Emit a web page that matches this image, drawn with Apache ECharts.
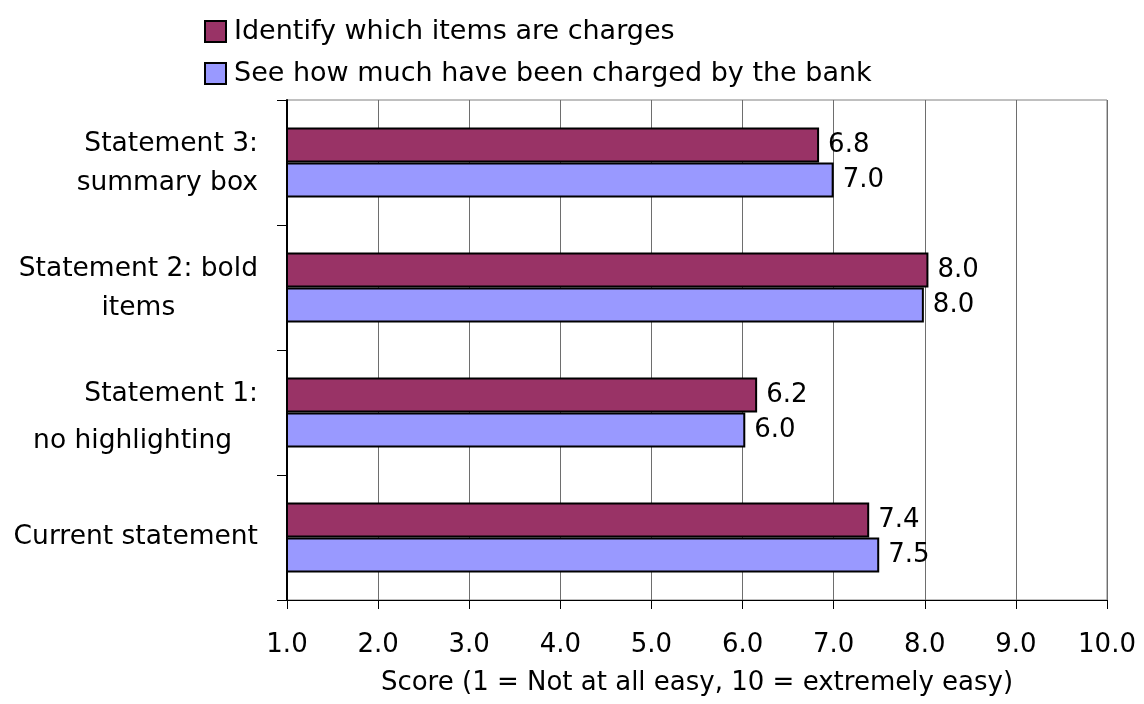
<!DOCTYPE html>
<html>
<head>
<meta charset="utf-8">
<script src="https://cdn.jsdelivr.net/npm/echarts@6/dist/echarts.min.js"></script>
<style>
  html, body { margin: 0; padding: 0; background: #ffffff; }
  #chart { width: 1144px; height: 704px; }
</style>
</head>
<body>
<div id="chart"></div>
<script>
// ---- data ----
var categories = [
  'Statement 3:\nsummary box',
  'Statement 2: bold\nitems',
  'Statement 1:\nno highlighting',
  'Current statement'
];
var seriesNames = [
  'Identify which items are charges',
  'See how much have been charged by the bank'
];
var identifyValues = [6.84, 8.04, 6.16, 7.39];
var seeHowMuchValues = [7.00, 7.99, 6.03, 7.50];
var xTickMin = 1;
var xTickMax = 10;
var xTickStep = 1;
var axisTitle = 'Score (1 = Not at all easy, 10 = extremely easy)';

// ---- styles (not data) ----
var FONT = '"DejaVu Sans", Verdana, sans-serif';
var labelLineStyles = [['a1', 'a2'], ['a1', 'c'], ['s', 'p'], ['a1']];

var chart = echarts.init(document.getElementById('chart'), null, { renderer: 'canvas' });

var option = {
  animation: false,
  backgroundColor: '#ffffff',
  textStyle: { fontFamily: FONT },
  legend: {
    orient: 'vertical',
    left: 199,
    top: 13,
    itemWidth: 21,
    itemHeight: 21,
    itemGap: 15,
    icon: 'rect',
    textStyle: { fontFamily: FONT, fontSize: 27, color: '#000', lineHeight: 27, padding: [0, 0, 0, 3] },
    data: seriesNames
  },
  grid: {
    left: 287,
    right: 37,
    top: 100,
    bottom: 104,
    show: true,
    borderColor: '#808080',
    borderWidth: 1,
    containLabel: false
  },
  xAxis: {
    type: 'value',
    min: xTickMin,
    max: xTickMax,
    interval: xTickStep,
    name: axisTitle,
    nameLocation: 'middle',
    nameGap: 70,
    nameTextStyle: { fontFamily: FONT, fontSize: 26, color: '#000' },
    axisLine: { show: true, lineStyle: { color: '#000', width: 1 } },
    axisTick: { show: true, inside: false, length: 9, lineStyle: { color: '#000', width: 1 } },
    axisLabel: {
      fontFamily: FONT, fontSize: 26, color: '#000', margin: 32,
      formatter: function (v) { return v.toFixed(1); }
    },
    splitLine: { show: true, lineStyle: { color: '#6e6e6e', width: 1 } }
  },
  yAxis: {
    type: 'category',
    inverse: true,
    data: categories,
    axisLine: { show: true, lineStyle: { color: '#000', width: 2 } },
    axisTick: { show: true, inside: false, length: 10, alignWithLabel: false, lineStyle: { color: '#000', width: 1 } },
    splitLine: { show: false },
    axisLabel: {
      margin: 29,
      align: 'right',
      fontFamily: FONT,
      fontSize: 26.5,
      color: '#000',
      formatter: function (value, idx) {
        var lines = value.split('\n');
        var st = labelLineStyles[idx] || [];
        return lines.map(function (ln, i) { return '{' + (st[i] || 'a1') + '|' + ln + '}'; }).join('\n');
      },
      rich: {
        a1: { fontFamily: FONT, fontSize: 26.5, color: '#000', lineHeight: 41 },
        a2: { fontFamily: FONT, fontSize: 26.5, color: '#000', lineHeight: 37 },
        c: { fontFamily: FONT, fontSize: 26.5, color: '#000', lineHeight: 37, align: 'center' },
        s: { fontFamily: FONT, fontSize: 26.5, color: '#000', lineHeight: 57 },
        p: { fontFamily: FONT, fontSize: 26.5, color: '#000', lineHeight: 37, padding: [0, 26, 0, 0] }
      }
    }
  },
  series: [
    {
      name: seriesNames[0],
      type: 'bar',
      data: identifyValues,
      barGap: '0%',
      barCategoryGap: '44%',
      itemStyle: { color: '#993366', borderColor: '#000', borderWidth: 2 },
      label: {
        show: true, position: 'right', distance: 9,
        fontFamily: FONT, fontSize: 26, color: '#000',
        formatter: function (p) { return p.value.toFixed(1); }
      }
    },
    {
      name: seriesNames[1],
      type: 'bar',
      data: seeHowMuchValues,
      barGap: '0%',
      barCategoryGap: '44%',
      itemStyle: { color: '#9999FF', borderColor: '#000', borderWidth: 2 },
      label: {
        show: true, position: 'right', distance: 9,
        fontFamily: FONT, fontSize: 26, color: '#000',
        formatter: function (p) { return p.value.toFixed(1); }
      }
    }
  ]
};

chart.setOption(option);
</script>
</body>
</html>
